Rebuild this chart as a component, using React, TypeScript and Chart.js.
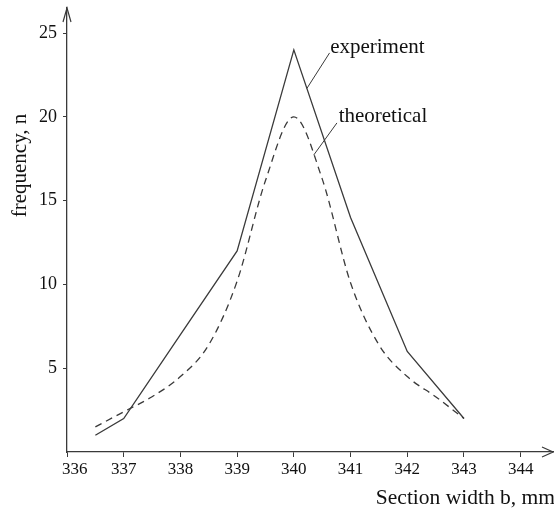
import React, { useEffect, useRef } from 'react';
import { Chart, registerables } from 'chart.js';

Chart.register(...registerables);

// ---- data ----
const experimentWidth = [336.5, 337, 338, 339, 340, 341, 342, 343];
const experimentFreq = [1, 2, 7, 12, 24, 14, 6, 2];

const theoreticalWidth = [336.5, 337, 337.5, 338, 338.5, 339, 339.5, 340, 340.5, 341, 341.5, 342, 342.5, 343];
const theoreticalFreq = [1.5, 2.4, 3.3, 4.5, 6.4, 10.2, 16.2, 20, 16.3, 10.1, 6.4, 4.5, 3.3, 2.0];

const xTickValues = [336, 337, 338, 339, 340, 341, 342, 343, 344];
const yTickValues = [5, 10, 15, 20, 25];

const seriesLabels = ['experiment', 'theoretical'];
const xAxisTitle = 'Section width b, mm';
const yAxisTitle = 'frequency, n';

// annotation anchors (data units)
const labelX = [340.64, 340.79];
const labelY = [23.79, 19.7];
const leaderStartX = [340.63, 340.76];
const leaderStartY = [23.82, 19.64];
const leaderEndX = [340.23, 340.35];
const leaderEndY = [21.7, 17.72];

const FONT = "'Liberation Serif', 'Times New Roman', serif";
const INK = '#111111';
const LINE = '#3a3a3a';

const decorPlugin = {
  id: 'decor',
  afterDraw(chart: any) {
    const ctx = chart.ctx;
    const xs = chart.scales.x;
    const ys = chart.scales.y;
    const a = chart.chartArea;
    ctx.save();
    // arrow heads
    ctx.strokeStyle = LINE;
    ctx.lineWidth = 1.2;
    ctx.beginPath();
    ctx.moveTo(a.left - 4, a.top + 14);
    ctx.lineTo(a.left, a.top);
    ctx.lineTo(a.left + 4, a.top + 14);
    ctx.moveTo(a.right - 11, a.bottom - 5);
    ctx.lineTo(a.right, a.bottom);
    ctx.lineTo(a.right - 11, a.bottom + 5);
    ctx.stroke();

    // leader lines
    ctx.lineWidth = 1;
    for (let i = 0; i < seriesLabels.length; i++) {
      ctx.beginPath();
      ctx.moveTo(xs.getPixelForValue(leaderStartX[i]), ys.getPixelForValue(leaderStartY[i]));
      ctx.lineTo(xs.getPixelForValue(leaderEndX[i]), ys.getPixelForValue(leaderEndY[i]));
      ctx.stroke();
    }

    ctx.fillStyle = INK;

    // x tick labels (first one nudged clear of the y axis)
    ctx.font = `17px ${FONT}`;
    ctx.textAlign = 'center';
    ctx.textBaseline = 'middle';
    for (const v of xTickValues) {
      const label = String(v);
      const w = ctx.measureText(label).width;
      const px = Math.max(xs.getPixelForValue(v), a.left - 5 + w / 2);
      ctx.fillText(label, px, a.bottom + 18);
    }

    // series labels
    ctx.font = `21px ${FONT}`;
    ctx.textAlign = 'left';
    ctx.textBaseline = 'alphabetic';
    for (let i = 0; i < seriesLabels.length; i++) {
      ctx.fillText(seriesLabels[i], xs.getPixelForValue(labelX[i]), ys.getPixelForValue(labelY[i]));
    }

    // x title
    ctx.font = `21.5px ${FONT}`;
    ctx.textAlign = 'right';
    ctx.fillText(xAxisTitle, chart.width + 1, chart.height - 5);

    // y title
    ctx.font = `21px ${FONT}`;
    ctx.translate(20, ys.getPixelForValue(17.1));
    ctx.rotate(-Math.PI / 2);
    ctx.textAlign = 'center';
    ctx.textBaseline = 'middle';
    ctx.fillText(yAxisTitle, 0, 0);
    ctx.restore();
  },
};

export default function App() {
  const ref = useRef<HTMLCanvasElement | null>(null);
  useEffect(() => {
    if (!ref.current) return;
    const chart = new Chart(ref.current, {
      type: 'line',
      data: {
        datasets: [
          {
            label: seriesLabels[0],
            data: experimentWidth.map((x, i) => ({ x, y: experimentFreq[i] })),
            borderColor: LINE,
            borderWidth: 1.3,
            pointRadius: 0,
            tension: 0,
            fill: false,
          },
          {
            label: seriesLabels[1],
            data: theoreticalWidth.map((x, i) => ({ x, y: theoreticalFreq[i] })),
            borderColor: LINE,
            borderWidth: 1.3,
            borderDash: [7, 5],
            pointRadius: 0,
            cubicInterpolationMode: 'monotone',
            fill: false,
          },
        ],
      },
      options: {
        animation: false,
        responsive: false,
        layout: { padding: { top: 8, right: 1, left: 0, bottom: 0 } },
        plugins: { legend: { display: false }, tooltip: { enabled: false } },
        scales: {
          x: {
            type: 'linear',
            min: 336,
            max: 344.57,
            afterBuildTicks: (s: any) => {
              s.ticks = xTickValues.map((v) => ({ value: v }));
            },
            afterFit: (s: any) => {
              s.height = 57;
              s.paddingLeft = 0;
              s.paddingRight = 0;
            },
            grid: { drawOnChartArea: false, drawTicks: true, tickLength: 5, color: LINE, lineWidth: 1 },
            border: { display: true, color: LINE, width: 1.3 },
            ticks: { display: false },
          },
          y: {
            type: 'linear',
            min: 0,
            max: 26.5,
            afterBuildTicks: (s: any) => {
              s.ticks = yTickValues.map((v) => ({ value: v }));
            },
            afterFit: (s: any) => {
              s.width = 67;
              s.paddingTop = 0;
              s.paddingBottom = 0;
            },
            grid: { drawOnChartArea: false, drawTicks: true, tickLength: 4, color: LINE, lineWidth: 1 },
            border: { display: true, color: LINE, width: 1.3 },
            ticks: {
              color: INK,
              font: { family: FONT, size: 18 },
              padding: 6,
              autoSkip: false,
              callback: (v: any) => String(v),
            },
          },
        },
      },
      plugins: [decorPlugin],
    });
    return () => chart.destroy();
  }, []);
  return (
    <div style={{ position: 'absolute', left: 0, top: 0, width: 554, height: 509, background: '#fff' }}>
      <canvas ref={ref} width={554} height={509} />
    </div>
  );
}
